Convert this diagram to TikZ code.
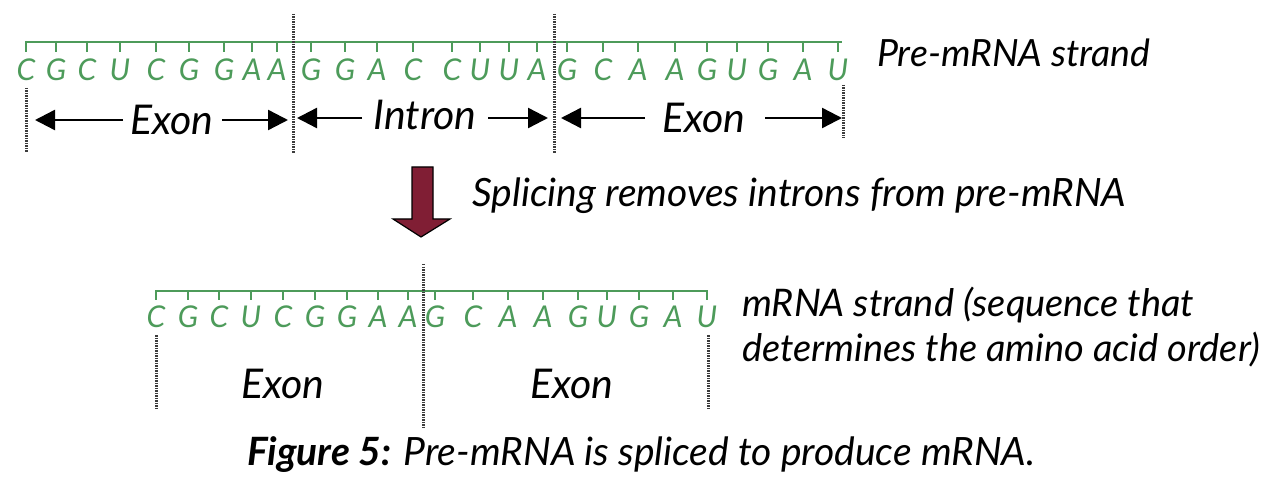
\documentclass[tikz,border=0pt]{standalone}
\usepackage{fontspec}
\setmainfont{Lato}
\usetikzlibrary{arrows.meta}
\definecolor{rnagreen}{RGB}{77,155,90}
\definecolor{maroon}{RGB}{128,30,52}
\definecolor{dotgray}{RGB}{60,60,60}
\begin{document}
\begin{tikzpicture}[x=1pt,y=-1pt,
  strand/.style={rnagreen,line width=2.6pt},
  tick/.style={rnagreen,line width=2.4pt},
  base/.style={text=rnagreen,font=\fontsize{30}{30}\selectfont\itshape,inner sep=0pt,anchor=north},
  sep/.style={dotgray,line width=3pt,dash pattern=on 1.5pt off 1pt},
  span/.style={line width=2.4pt,-{Triangle[length=20pt,width=20pt]}},
  seglabel/.style={font=\fontsize{41}{44}\selectfont\itshape,inner sep=0pt,anchor=base},
  note/.style={font=\fontsize{38}{44}\selectfont\itshape,inner sep=0pt,anchor=base west}]
\useasboundingbox (0,0) rectangle (1280,481);
\fill[white] (0,0) rectangle (1280,481);

% ---------- pre-mRNA strand ----------
\coordinate (tl) at (26,42);
\coordinate (tr) at (842,42);
\draw[strand] (tl) -- (tr);
\foreach \x/\b [count=\i] in {26/C,56/G,87/C,120/U,156/C,189/G,224/G,252/A,277/A,
  311/G,345/G,377/A,413/C,452/C,480/U,509/U,537/A,
  567/G,603/C,638/A,675/A,707/G,737/U,768/G,803/A,838/U}{
  \draw[tick] (\x,41) -- (\x,52);
  \node[base] (t\i) at (\x,59) {\b};
}
% separators
\coordinate (s1a) at (26,88);  \coordinate (s1b) at (26,152);
\coordinate (s2a) at (293,14); \coordinate (s2b) at (293,153);
\coordinate (s3a) at (554,14); \coordinate (s3b) at (554,153);
\coordinate (s4a) at (843,85); \coordinate (s4b) at (843,138);
\draw[sep] (s1a) -- (s1b);
\draw[sep] (s2a) -- (s2b);
\draw[sep] (s3a) -- (s3b);
\draw[sep] (s4a) -- (s4b);

\node[seglabel] (ex1) at (172,135) {Exon};
\node[seglabel] (in1) at (425,130) {Intron};
\node[seglabel] (ex2) at (704,133) {Exon};
\coordinate (a1s) at (123,120); \coordinate (a1e) at (35,120);
\coordinate (a2s) at (222,120); \coordinate (a2e) at (288,120);
\coordinate (a3s) at (362,118); \coordinate (a3e) at (297,118);
\coordinate (a4s) at (488,118); \coordinate (a4e) at (548,118);
\coordinate (a5s) at (645,118); \coordinate (a5e) at (561,118);
\coordinate (a6s) at (765,118); \coordinate (a6e) at (842,118);
\draw[span] (a1s) -- (a1e);
\draw[span] (a2s) -- (a2e);
\draw[span] (a3s) -- (a3e);
\draw[span] (a4s) -- (a4e);
\draw[span] (a5s) -- (a5e);
\draw[span] (a6s) -- (a6e);

\node[note,font=\fontsize{37.5}{44}\selectfont\itshape] (pre) at (877,67) {Pre-mRNA strand};

% ---------- splicing arrow ----------
\draw[fill=maroon,draw=black,line width=1.2pt,line join=miter]
  (412,167) -- (433,167) -- (433,219) -- (450,219) -- (421,237) -- (393,219) -- (412,219) -- cycle;
\node[note,font=\fontsize{39}{44}\selectfont\itshape] (spl) at (472,207) {Splicing removes introns from pre-mRNA};

% ---------- mRNA strand ----------
\coordinate (bl) at (156,291);
\coordinate (br) at (708,291);
\draw[strand] (bl) -- (br);
\foreach \x/\b [count=\i] in {156/C,188/G,219/C,251/U,283/C,315/G,347/G,378/A,408/A,
  435/G,473/C,508/A,543/A,578/G,607/U,639/G,673/A,707/U}{
  \draw[tick] (\x,290) -- (\x,300);
  \node[base] (b\i) at (\x,306) {\b};
}
\coordinate (m1a) at (156,335); \coordinate (m1b) at (156,410);
\coordinate (m2a) at (423,264); \coordinate (m2b) at (423,428);
\coordinate (m3a) at (708,335); \coordinate (m3b) at (708,410);
\draw[sep] (m1a) -- (m1b);
\draw[sep] (m2a) -- (m2b);
\draw[sep] (m3a) -- (m3b);
\node[seglabel] (ex3) at (283,398) {Exon};
\node[seglabel] (ex4) at (572,398) {Exon};

\node[note] (mr1) at (742,316) {mRNA strand (sequence that};
\node[note] (mr2) at (742,361) {determines the amino acid order)};

% ---------- caption ----------
\node[note,font=\fontsize{39}{44}\selectfont\itshape] (cap) at (247,465) {\textbf{Figure 5:} Pre-mRNA is spliced to produce mRNA.};
\end{tikzpicture}
\end{document}
